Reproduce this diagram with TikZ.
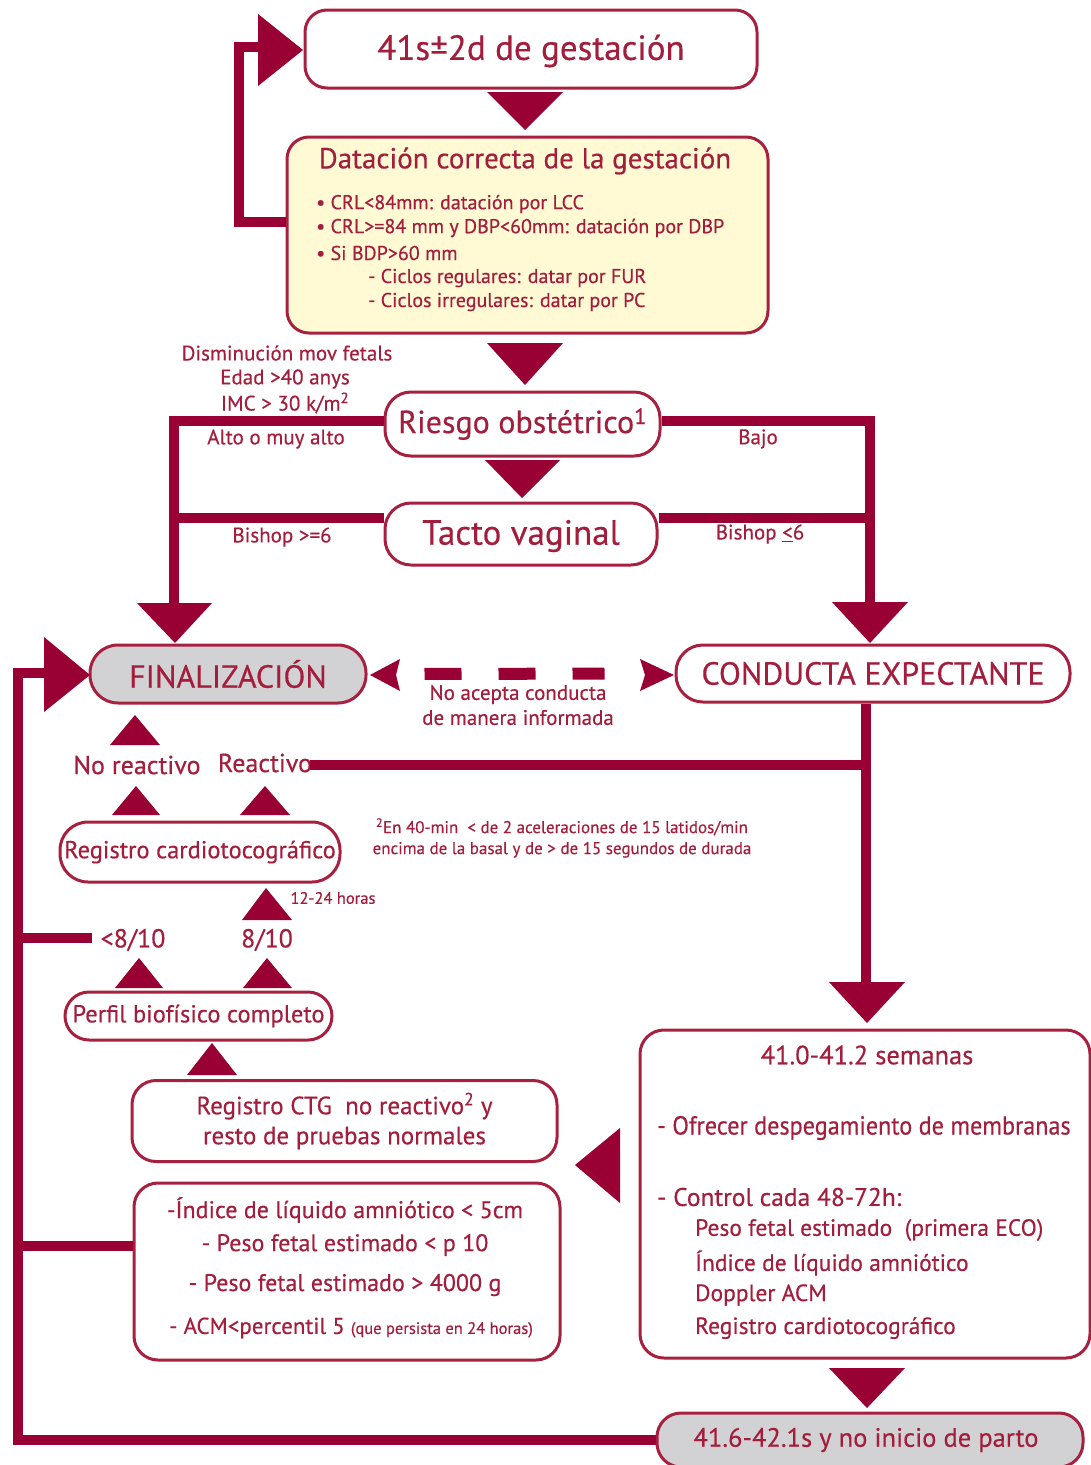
\documentclass[tikz,border=0pt]{standalone}
\usepackage{fontspec}
\setmainfont{PT Sans}[FakeBold=0.4]
\definecolor{dr}{RGB}{153,0,51}
\definecolor{bx}{RGB}{168,32,64}
\definecolor{tx}{RGB}{163,30,60}
\definecolor{yel}{RGB}{255,249,212}
\definecolor{gry}{RGB}{210,210,212}
\newcommand\fz[2]{\fontsize{#1}{#2}\selectfont}
\begin{document}
\begin{tikzpicture}[x=1pt,y=-1pt,
  box/.style={draw=bx,line width=3pt,rounded corners=22pt,fill=white,text=tx,align=center,inner sep=0pt},
  txt/.style={text=tx,inner sep=0pt,align=center},
  conn/.style={draw=dr,line width=10pt},
  tri/.style={fill=dr}]
\fill[white] (0,0) rectangle (1091,1465);
\useasboundingbox (0,0) rectangle (1091,1465);

% ---------------- boxes ----------------
\node[box,minimum width=452pt,minimum height=78pt] (top) at (531,49) {};
\node[txt,font=\fz{35}{40}] (toptxt) at (531,51) {41s±2d de gestación};
\node[box,fill=yel,minimum width=481pt,minimum height=196pt] (dat) at (527.5,235) {};
\node[txt,font=\fz{29}{34}] (dattit) at (525,161) {Datación correcta de la gestación};
\node[txt,anchor=west,font=\fz{20}{24}] (d1) at (316,204) {• CRL<84mm: datación por LCC};
\node[txt,anchor=west,font=\fz{20}{24}] (d2) at (316,228) {• CRL>=84 mm y DBP<60mm: datación por DBP};
\node[txt,anchor=west,font=\fz{20}{24}] (d3) at (316,253) {• Si BDP>60 mm};
\node[txt,anchor=west,font=\fz{20}{24}] (d4) at (368,278) {- Ciclos regulares: datar por FUR};
\node[txt,anchor=west,font=\fz{20}{24}] (d5) at (368,302) {- Ciclos irregulares: datar por PC};

\node[box,rounded corners=26pt,minimum width=275pt,minimum height=64pt,font=\fz{32}{36}] (ries) at (522.5,424) {Riesgo obstétrico\textsuperscript{1}};
\node[box,rounded corners=26pt,minimum width=272pt,minimum height=62pt] (tacto) at (521,534) {};
\node[txt,font=\fz{35}{40}] (tactotxt) at (521,536) {Tacto vaginal};
\node[box,fill=gry,rounded corners=28pt,minimum width=276pt,minimum height=58pt,font=\fz{32}{36}] (fin) at (228,674) {FINALIZACIÓN};
\node[box,rounded corners=27pt,minimum width=394pt,minimum height=57pt,font=\fz{32}{36}] (con) at (873,673.5) {CONDUCTA EXPECTANTE};
\node[box,rounded corners=28pt,minimum width=280pt,minimum height=60pt,font=\fz{24.5}{28}] (reg) at (200,852) {Registro cardiotocográfico};
\node[box,rounded corners=24pt,minimum width=267pt,minimum height=48pt,font=\fz{24.5}{28}] (per) at (198.5,1016) {Perfil biofísico completo};
\node[box,rounded corners=24pt,minimum width=425pt,minimum height=81pt,font=\fz{25}{30}] (ctg) at (344.5,1121) {Registro CTG\ \ no reactivo\textsuperscript{2} y\\resto de pruebas normales};
\node[box,rounded corners=24pt,minimum width=426pt,minimum height=177pt] (ind) at (347,1271.5) {};
\node[txt,font=\fz{24}{28}] (i1) at (345,1210) {-Índice de líquido amniótico < 5cm};
\node[txt,font=\fz{24}{28}] (i2) at (345,1245) {- Peso fetal estimado < p 10};
\node[txt,font=\fz{24}{28}] (i3) at (345,1285) {- Peso fetal estimado > 4000 g};
\node[txt,font=\fz{23}{28}] (i4) at (351,1328) {- ACM<percentil 5 {\fz{16.5}{18}(que persista en 24 horas)}};

\node[box,rounded corners=24pt,minimum width=450pt,minimum height=328pt] (sem) at (865,1194) {};
\node[txt,font=\fz{26.5}{30}] (s0) at (867,1055) {41.0-41.2 semanas};
\node[txt,anchor=west,font=\fz{26}{30}] (s1) at (657,1128) {\scalebox{0.93}[1]{- Ofrecer despegamiento de membranas}};
\node[txt,anchor=west,font=\fz{25.5}{30}] (s2) at (657,1197) {- Control cada 48-72h:};
\node[txt,anchor=west,font=\fz{23.5}{28}] (s3) at (695,1230) {Peso fetal estimado\ \ (primera ECO)};
\node[txt,anchor=west,font=\fz{23.5}{28}] (s4) at (695,1263) {Índice de líquido amniótico};
\node[txt,anchor=west,font=\fz{23.5}{28}] (s5) at (695,1295) {Doppler ACM};
\node[txt,anchor=west,font=\fz{23.5}{28}] (s6) at (695,1328) {Registro cardiotocográfico};

\node[box,fill=gry,rounded corners=24pt,minimum width=426pt,minimum height=54pt] (bot) at (870,1440) {};
\node[txt,font=\fz{26.5}{30}] (bott) at (866,1440) {41.6-42.1s y no inicio de parto};

% ---------------- labels ----------------
\node[txt,font=\fz{21}{24}] (l1) at (287,353) {Disminución mov fetals};
\node[txt,font=\fz{21}{24}] (l2) at (285,379) {Edad >40 anys};
\node[txt,font=\fz{21}{24}] (l3) at (285,403) {IMC > 30 k/m\textsuperscript{2}};
\node[txt,font=\fz{21}{24}] (alto) at (276,439) {Alto o muy alto};
\node[txt,font=\fz{21}{24}] (bajo) at (758,439) {Bajo};
\node[txt,font=\fz{21}{24}] (b1) at (282,537) {Bishop >=6};
\node[txt,font=\fz{21}{24}] (b2) at (760,534) {Bishop \underline{<}6};
\node[txt,font=\fz{21}{25}] (noac) at (518,705) {No acepta conducta\\de manera informada};
\node[txt,font=\fz{26}{30}] (nore) at (137,765) {No reactivo};
\node[txt,font=\fz{26}{30}] (reac) at (265,763) {Reactivo};
\node[txt,font=\fz{17}{21}] (foot) at (562,838) {\textsuperscript{2}En 40-min\ \ < de 2 aceleraciones de 15 latidos/min\\encima de la basal y de > de 15 segundos de durada};
\node[txt,font=\fz{16.5}{19}] (h1224) at (333,898) {12-24 horas};
\node[txt,font=\fz{26}{30}] (lt8) at (133,940) {<8/10};
\node[txt,font=\fz{26}{30}] (eq8) at (267,940) {8/10};

% ---------------- coordinates ----------------
\coordinate (loopend) at (262,47);
\coordinate (finarr) at (174,605);
\coordinate (conarr) at (870,604);
\coordinate (carr) at (866,984);
\coordinate (lcorner) at (18,673);
\coordinate (finin) at (46,673);
\coordinate (tl) at ([yshift=16pt]tacto.west);
\coordinate (tr) at ([yshift=16pt]tacto.east);
\coordinate (l8) at (18,938);
\coordinate (l8e) at (92,938);

% ---------------- connectors ----------------
\draw[conn] ([yshift=13pt]dat.west) -- ++(-47,0) |- (loopend);
\draw[conn] ([yshift=3pt]ries.west) -| (finarr);
\draw[conn] ([yshift=3pt]ries.east) -| (conarr);
\draw[conn] (tl) -- (tl -| finarr);
\draw[conn] (tr) -- (tr -| conarr);
\draw[conn] (bot.west) -| (lcorner) -- (finin);
\draw[conn] (l8) -- (l8e);
\draw[conn] ([yshift=26pt]ind.west) -- ([yshift=26pt]ind.west -| lcorner);
\draw[conn] (con.south -| carr) -- (carr);
\draw[conn] ([xshift=-2pt,yshift=-2pt]reac.east) -- ([xshift=-2pt,yshift=-2pt]reac.east -| carr);
\draw[dr,line width=12pt,dash pattern=on 37pt off 37pt,shorten <=57pt,shorten >=70pt] (fin.east) -- (con.west);

% ---------------- arrowheads ----------------
\fill[tri] (258,14) -- (303,50) -- (258,86) -- cycle;
\fill[tri] (487,92) -- (563,92) -- (525,130) -- cycle;
\fill[tri] (487,343) -- (563,343) -- (525,385) -- cycle;
\fill[tri] (485,460) -- (560,460) -- (522,498) -- cycle;
\fill[tri] (137,603) -- (212,603) -- (175,643) -- cycle;
\fill[tri] (832,602) -- (908,602) -- (870,643) -- cycle;
\fill[tri] (44,637) -- (90,675) -- (44,712) -- cycle;
\fill[tri] (370,675) -- (400,659) -- (396,675) -- (400,691) -- cycle;
\fill[tri] (674,675) -- (640,659) -- (645,675) -- (640,691) -- cycle;
\fill[tri] (110,745) -- (160,745) -- (135,715) -- cycle;
\fill[tri] (112,815) -- (160,815) -- (136,786) -- cycle;
\fill[tri] (240,815) -- (290,815) -- (265,786) -- cycle;
\fill[tri] (242,920) -- (292,920) -- (266,888) -- cycle;
\fill[tri] (115,988) -- (163,988) -- (139,958) -- cycle;
\fill[tri] (243,988) -- (292,988) -- (267,958) -- cycle;
\fill[tri] (187,1075) -- (237,1075) -- (212,1043) -- cycle;
\fill[tri] (829,982) -- (905,982) -- (867,1023) -- cycle;
\fill[tri] (620,1128) -- (620,1203) -- (575,1165) -- cycle;
\fill[tri] (829,1368) -- (905,1368) -- (867,1408) -- cycle;
\end{tikzpicture}
\end{document}
